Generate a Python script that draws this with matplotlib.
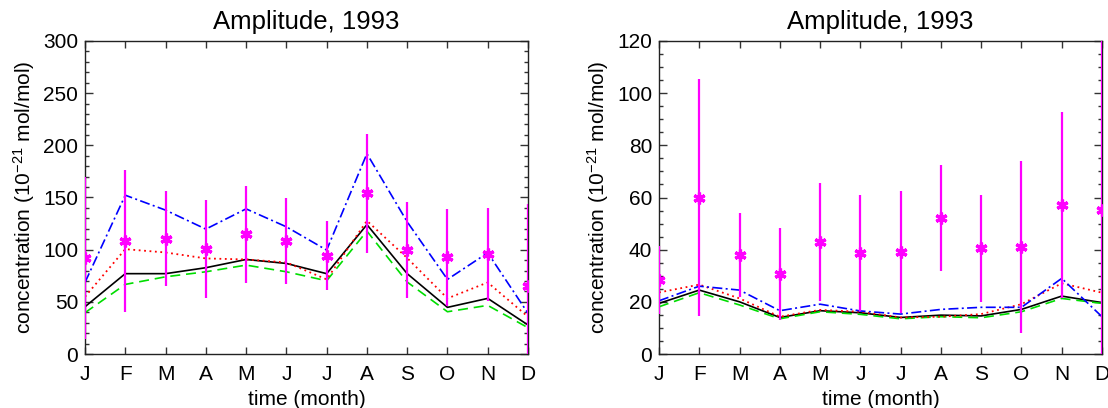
import matplotlib
matplotlib.use("Agg")
import matplotlib.pyplot as plt
from matplotlib.ticker import MultipleLocator
import numpy as np

plt.rcParams['font.family'] = ['Liberation Sans', 'DejaVu Sans']
plt.rcParams['mathtext.default'] = 'regular'

months = ['J', 'F', 'M', 'A', 'M', 'J', 'J', 'A', 'S', 'O', 'N', 'D']
title = 'Amplitude, 1993'

# Left panel
left_black = [45.3, 77, 77, 82.7, 90.6, 86.8, 77, 124, 77, 44.7, 53.3, 27.8]
left_green = [39.6, 66.7, 74, 78.8, 85.2, 78.8, 70.2, 117.8, 69, 40.5, 46.6, 25.2]
left_red = [54.9, 100.5, 97.3, 91.6, 90.6, 87.8, 71.5, 127.7, 92, 53.3, 68.6, 35.7]
left_blue = [68.6, 152.2, 137.9, 119.7, 139.1, 121.9, 99.6, 192, 126.7, 71.5, 97, 39]
left_obs = [92.2, 108.2, 110.7, 100.2, 114.9, 108.5, 94.1, 154.1, 99.9, 92.9, 95.4, 65.4]
left_err = [77.6, 68, 46, 47, 46.6, 41, 33, 57, 46, 46.5, 44.7, 78]

# Right panel
right_black = [19.4, 24.5, 20, 14, 16.6, 15.8, 14, 14.9, 14.6, 17.1, 22.2, 19.7]
right_green = [18.1, 23.5, 18.8, 13.5, 16.2, 15.2, 13.5, 14.3, 13.9, 16.2, 21.3, 19.4]
right_red = [23.6, 26.6, 21.3, 14.3, 16.9, 16.2, 14, 14.3, 15.3, 19.1, 27.1, 23.5]
right_blue = [20.4, 26, 24.5, 16.6, 19.1, 16.5, 15.3, 17.1, 17.9, 17.9, 29, 14.3]
right_obs = [28.3, 59.9, 37.9, 30.6, 42.9, 38.8, 39.2, 52.2, 40.5, 41, 57.1, 55.1]
right_err = [13, 45.5, 16.2, 17.7, 22.6, 22.3, 23.3, 20.3, 20.5, 32.9, 35.7, 70]

fig = plt.figure(figsize=(11.08, 4.08), dpi=100)
ax1 = fig.add_axes([85/1108, 1-354/408, 443/1108, 313/408])
ax2 = fig.add_axes([659/1108, 1-354/408, 443/1108, 313/408])

x = np.arange(12)

def draw(ax, black, green, red, blue, obs, err, ymax, major, minor):
    ax.plot(x, black, color='black', lw=1.2, zorder=3)
    ax.plot(x, green, color='#00DD00', lw=1.2, ls=(0, (6, 3.5)), zorder=3)
    ax.plot(x, red, color='red', lw=1.3, ls=(0, (1, 2)), zorder=3)
    ax.plot(x, blue, color='blue', lw=1.2, ls=(0, (6, 2, 1.2, 2)), zorder=3)
    ax.errorbar(x, obs, yerr=err, fmt='none', ecolor='#FF00FF', elinewidth=1.6,
                capsize=0, zorder=4)
    ax.plot(x, obs, ls='none', marker=(6, 2, 0), ms=8.5, mew=2.3, color='#FF00FF', zorder=5)
    ax.set_xlim(0, 11)
    ax.set_ylim(0, ymax)
    ax.set_xticks(x)
    ax.set_xticklabels(months)
    ax.yaxis.set_major_locator(MultipleLocator(major))
    ax.yaxis.set_minor_locator(MultipleLocator(minor))
    ax.tick_params(axis='both', which='both', direction='in', top=True, right=True,
                   labelsize=15, width=1.0, color='#333333')
    ax.tick_params(axis='y', which='major', length=6, pad=5)
    ax.tick_params(axis='y', which='minor', length=3)
    ax.tick_params(axis='x', which='major', length=5, pad=8)
    ax.tick_params(axis='x', which='minor', length=0)
    for s in ax.spines.values():
        s.set_linewidth(1.0)
        s.set_color('#222222')
    ax.set_title(title, fontsize=18.5, pad=9)
    ax.set_xlabel('time (month)', fontsize=15, labelpad=4)
    ax.set_ylabel('concentration (10$^{-21}$ mol/mol)', fontsize=15, labelpad=4)

draw(ax1, left_black, left_green, left_red, left_blue, left_obs, left_err, 300, 50, 10)
draw(ax2, right_black, right_green, right_red, right_blue, right_obs, right_err, 120, 20, 5)

fig.savefig('out.png', dpi=100)
